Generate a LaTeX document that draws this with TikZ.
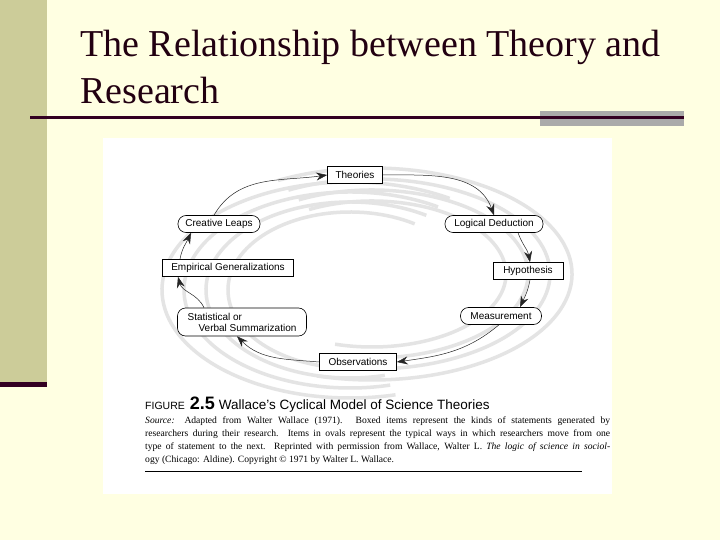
\documentclass[tikz,border=0pt]{standalone}
\usepackage{fontspec}
\setmainfont{Liberation Serif}
\setsansfont{Liberation Sans}
\usetikzlibrary{arrows.meta}

\definecolor{slidebg}{RGB}{255,255,226}
\definecolor{sidebar}{RGB}{204,204,153}
\definecolor{titleline}{RGB}{51,0,34}
\definecolor{titletext}{RGB}{34,0,17}
\definecolor{barbox}{RGB}{170,170,170}
\definecolor{swoosh}{RGB}{228,228,228}

\tikzset{
  stmt/.style={draw, fill=white, line width=0.6pt, inner sep=2pt, minimum height=17pt,
               font=\sffamily\fontsize{10}{11}\selectfont},
  move/.style={stmt, rounded corners=8pt},
  cyc/.style={-{Stealth[length=11pt,width=8pt]}, line width=0.5pt, black!85},
  swooshline/.style={swoosh, line width=3.5pt},
}

\begin{document}
\begin{tikzpicture}[x=1pt,y=1pt]
      \fill [slidebg] (0,0) rectangle (720,-540);
      \useasboundingbox (0,0) rectangle (720,-540);

      \fill [sidebar] (0,0) rectangle (47,-382);
      \fill [titleline] (0,-382) rectangle (47,-387);
      \fill [barbox] (540,-111) rectangle (684,-126);
      \draw [titleline, line width=3pt] (30,-118) -- (684,-118);

      \node [anchor=base west, inner sep=0, titletext, font=\fontsize{38}{46}\selectfont] (title1) at (80,-57) {The Relationship between Theory and};
      \node [anchor=base west, inner sep=0, titletext, font=\fontsize{38}{46}\selectfont] (title2) at (80,-104) {Research};

      \fill [white] (103,-138) rectangle (612,-494);

      \foreach \rx/\ry in {188/108, 166/98, 144/88, 122/78}
        \draw [swooshline] ({350+\rx*cos(58)},{-290+\ry*sin(58)}) arc [start angle=58, end angle=284, x radius=\rx, y radius=\ry];
      \foreach \rx/\ry in {200/106, 178/95, 156/84, 134/73}
        \draw [swooshline] ({372+\rx*cos(118)},{-274+\ry*sin(118)}) arc [start angle=118, end angle=-106, x radius=\rx, y radius=\ry];

      \node [stmt, minimum width=55pt] (T) at (355,-175) {Theories};
      \node [move, minimum width=98pt] (LD) at (494,-224) {Logical Deduction};
      \node [stmt, minimum width=70pt] (H) at (528,-271) {Hypothesis};
      \node [move, minimum width=81pt] (M) at (501,-316) {Measurement};
      \node [stmt, minimum width=77pt] (O) at (358,-362) {Observations};
      \node [move, minimum width=129pt, minimum height=28pt, align=left] (S) at (242,-322) {Statistical or\\\hspace*{1.1em}Verbal Summarization};
      \node [stmt, minimum width=131pt] (EG) at (228,-268) {Empirical Generalizations};
      \node [move, minimum width=82pt] (CL) at (219,-224) {Creative Leaps};

      \draw [cyc] ([xshift=-5pt]CL.north) to [out=60, in=188] (T.west);
      \draw [cyc] (T.east) to [out=0, in=110] (LD.north);
      \draw [cyc] ([xshift=24pt]LD.south) to [out=-70, in=100] ([xshift=2pt]H.north);
      \draw [cyc] ([xshift=2pt]H.south) to [out=-100, in=65] ([xshift=19pt]M.north);
      \draw [cyc] ([xshift=-2pt]M.south) to [out=-140, in=8] (O.east);
      \draw [cyc] (O.west) to [out=175, in=-45] ([xshift=-5pt]S.south);
      \draw [cyc] ([xshift=-38pt]S.north) to [out=115, in=-75] ([xshift=-50pt]EG.south);
      \draw [cyc] ([xshift=-48pt]EG.north) to [out=80, in=-115] ([xshift=-28pt]CL.south);

      \node [anchor=base west, inner sep=0, font=\sffamily\fontsize{13.5}{15}\selectfont] (caption) at (145,-409)
        {{\fontsize{10.5}{12}\selectfont FIGURE}\hspace{5pt}{\bfseries\fontsize{18}{18}\selectfont 2.5}\hspace{4pt}Wallace’s Cyclical Model of Science Theories};
      \node [anchor=north west, inner sep=0, text width=465pt, align=justify, font=\fontsize{9.6}{12.7}\selectfont] (source) at (145,-417)
        {\textit{Source:} Adapted from Walter Wallace (1971). Boxed items represent the kinds of statements generated by\linebreak
         researchers during their research. Items in ovals represent the typical ways in which researchers move from one\linebreak
         type of statement to the next. Reprinted with permission from Wallace, Walter L. \textit{The logic of science in sociol-}\linebreak
         ogy (Chicago: Aldine). Copyright © 1971 by Walter L. Wallace.};
      \draw [line width=0.8pt] (145,-471) -- (582,-471);
\end{tikzpicture}
\end{document}
